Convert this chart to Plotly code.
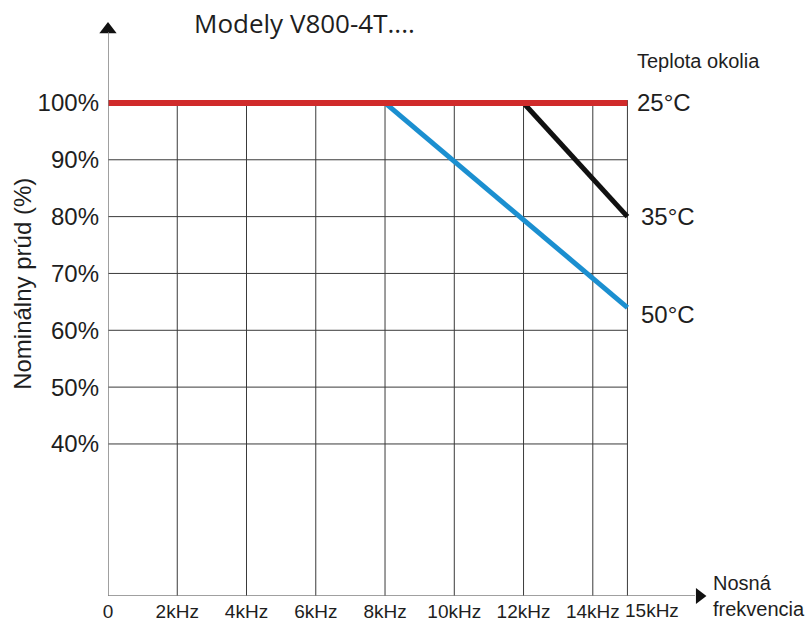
import plotly.graph_objects as go

# Carrier frequency axis (kHz) and labels
freq_ticks = [0, 2, 4, 6, 8, 10, 12, 14, 15]
freq_labels = ["0", "2kHz", "4kHz", "6kHz", "8kHz", "10kHz", "12kHz", "14kHz", "15kHz"]

# Rated current axis (%) and labels
pct_ticks = [40, 50, 60, 70, 80, 90, 100]
pct_labels = ["40%", "50%", "60%", "70%", "80%", "90%", "100%"]

# Derating curves per ambient temperature
curve_25_x = [0, 15]
curve_25_y = [100, 100]
curve_35_x = [12, 15]
curve_35_y = [100, 80]
curve_50_x = [8, 15]
curve_50_y = [100, 64]

temp_labels = ["25°C", "35°C", "50°C"]

X_MAX = 15
Y_BOTTOM = 13.25
Y_TOP = 116
X_RANGE_END = 17.5

FONT = "Liberation Sans, Arial, sans-serif"
INK = "#1e1e1e"
GRID = "#3a3a3a"
AXIS = "#808080"

fig = go.Figure()

# Grid: verticals stop at 100 %, horizontals stop at 15 kHz
shapes = []
for fx in freq_ticks[1:]:
    shapes.append(dict(type="line", xref="x", yref="y", x0=fx, x1=fx,
                       y0=Y_BOTTOM, y1=100.5, layer="below",
                       line=dict(color=GRID, width=1)))
for py in pct_ticks[:-1]:
    shapes.append(dict(type="line", xref="x", yref="y", x0=0, x1=X_MAX,
                       y0=py, y1=py, layer="below",
                       line=dict(color=GRID, width=1)))
# Axis lines with arrows
shapes.append(dict(type="line", xref="x", yref="y", x0=0, x1=0,
                   y0=Y_BOTTOM, y1=112.5, line=dict(color=AXIS, width=1.5)))
shapes.append(dict(type="line", xref="x", yref="y", x0=0, x1=16.95,
                   y0=Y_BOTTOM, y1=Y_BOTTOM, line=dict(color=AXIS, width=1.5)))

fig.add_trace(go.Scatter(x=curve_50_x, y=curve_50_y, mode="lines",
                         line=dict(color="#1b8fd0", width=5), showlegend=False))
fig.add_trace(go.Scatter(x=curve_35_x, y=curve_35_y, mode="lines",
                         line=dict(color="#111111", width=5), showlegend=False))
fig.add_trace(go.Scatter(x=curve_25_x, y=curve_25_y, mode="lines",
                         line=dict(color="#d02a2a", width=6), showlegend=False))

# Arrow heads
fig.add_trace(go.Scatter(x=[0], y=[112.9], mode="markers",
                         marker=dict(symbol="triangle-up", size=15, color="#111111"),
                         showlegend=False, cliponaxis=False))
fig.add_trace(go.Scatter(x=[17.08], y=[Y_BOTTOM], mode="markers",
                         marker=dict(symbol="triangle-right", size=14, color="#111111"),
                         showlegend=False, cliponaxis=False))

annotations = [
    dict(x=curve_25_x[-1], y=curve_25_y[-1], text=temp_labels[0], xshift=8,
         xanchor="left", yanchor="middle", showarrow=False,
         font=dict(family=FONT, size=24, color=INK)),
    dict(x=curve_35_x[-1], y=curve_35_y[-1], text=temp_labels[1], xshift=12,
         xanchor="left", yanchor="middle", showarrow=False,
         font=dict(family=FONT, size=24, color=INK)),
    dict(x=curve_50_x[-1], y=curve_50_y[-1], text=temp_labels[2], xshift=12,
         yshift=-7, xanchor="left", yanchor="middle", showarrow=False,
         font=dict(family=FONT, size=24, color=INK)),
    dict(x=X_MAX, y=107.4, text="Teplota okolia", xshift=8,
         xanchor="left", yanchor="middle", showarrow=False,
         font=dict(family=FONT, size=20, color=INK)),
    dict(x=17.42, y=Y_BOTTOM, text="Nosná<br>frekvencia", align="left",
         xanchor="left", yanchor="middle", showarrow=False,
         font=dict(family=FONT, size=20, color=INK)),
    dict(xref="paper", x=-0.14, y=68.2, text="Nominálny prúd (%)",
         textangle=-90, xanchor="center", yanchor="middle", showarrow=False,
         font=dict(family=FONT, size=24, color=INK)),
    # last frequency label sits just right of its gridline
    dict(x=freq_ticks[-1], yref="paper", y=0, text=freq_labels[-1], xshift=-4,
         yshift=-2, xanchor="left", yanchor="top", showarrow=False,
         font=dict(family=FONT, size=19, color=INK)),
]

fig.update_layout(
    width=807, height=626,
    margin=dict(l=108, r=93, t=12, b=30),
    paper_bgcolor="white", plot_bgcolor="white",
    title=dict(text="Modely V800-4T....", xref="container", yref="container",
               x=194 / 807, xanchor="left", y=1 - 24 / 626, yanchor="middle",
               font=dict(family="Open Sans, sans-serif", size=26, color=INK)),
    shapes=shapes,
    annotations=annotations,
    xaxis=dict(range=[0, X_RANGE_END], tickmode="array", tickvals=freq_ticks[:-1],
               ticktext=freq_labels[:-1], showgrid=False, zeroline=False,
               showline=False, ticks="", tickangle=0, automargin=False,
               ticklabelstandoff=2,
               tickfont=dict(family=FONT, size=19, color=INK)),
    yaxis=dict(range=[Y_BOTTOM, Y_TOP], tickmode="array", tickvals=pct_ticks,
               ticktext=pct_labels, showgrid=False, zeroline=False,
               showline=False, ticks="", automargin=False, ticklabelstandoff=8,
               tickfont=dict(family=FONT, size=24, color=INK)),
)

fig.write_html("out.html")
